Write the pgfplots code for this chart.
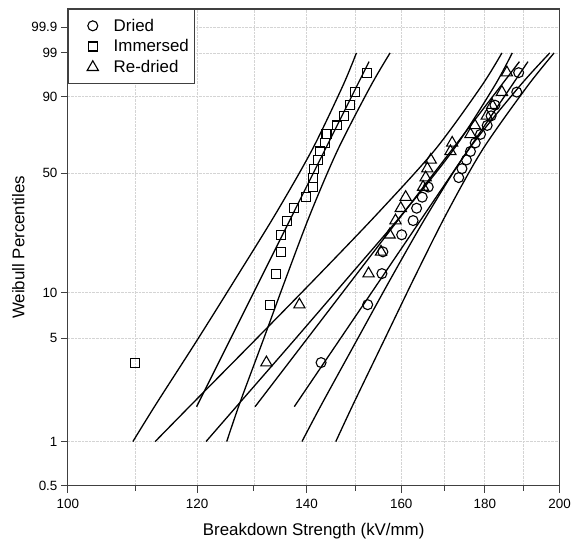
\documentclass[border=0pt]{standalone}
\usepackage{fontspec}
\setmainfont{Liberation Sans}
\usepackage{pgfplots}
\pgfplotsset{compat=1.18}

% y values are Weibull-transformed: ln(-ln(1-F))
\pgfplotstableread{
x w
142.9 -3.355
152.6 -2.442
155.7 -1.952
155.9 -1.609
160.1 -1.340
162.7 -1.116
163.5 -0.921
164.8 -0.747
166.2 -0.587
173.5 -0.438
174.3 -0.297
175.4 -0.160
176.4 -0.026
177.6 0.108
178.9 0.243
180.6 0.384
181.6 0.535
182.6 0.704
188.3 0.910
188.8 1.216
}\dried

\pgfplotstableread{
x w
109.9 -3.355
132.9 -2.442
134.1 -1.952
135.0 -1.609
135.1 -1.340
136.2 -1.116
137.5 -0.921
139.9 -0.747
141.3 -0.587
141.3 -0.438
141.5 -0.297
142.3 -0.160
142.7 -0.026
143.7 0.108
144.0 0.243
146.2 0.384
147.6 0.535
148.9 0.704
149.9 0.910
152.4 1.216
}\immersed

\pgfplotstableread{
x w
132.3 -3.355
138.6 -2.442
152.8 -1.952
155.5 -1.609
157.4 -1.340
158.7 -1.116
159.9 -0.921
161.0 -0.747
165.0 -0.587
165.6 -0.438
166.0 -0.297
166.8 -0.160
171.5 -0.026
171.9 0.108
176.4 0.243
177.5 0.384
180.5 0.535
181.9 0.704
184.4 0.910
185.7 1.216
}\redried

% confidence bounds: w, then x for each bound
\pgfplotstableread{
w    imlo  imhi  relo  rehi  drlo  drhi
-4.600 109.6 125.1 113.1 139.1 121.5 145.9
-4.000 113.3 127.4 119.2 143.1 127.3 149.6
-3.000 120.0 131.7 130.2 150.3 137.6 156.2
-2.000 126.9 136.1 142.1 157.9 148.6 163.1
-1.000 134.1 140.8 154.8 166.2 160.4 170.6
0.000  141.1 146.3 167.8 175.9 172.2 179.4
1.000  147.3 153.2 179.1 189.0 182.4 191.1
1.527  150.2 157.5 184.4 197.3 187.1 198.5
}\bounds

\pgfplotsset{
  mkleg/.style={legend image code/.code={
    \path (-20bp,0bp) (19bp,0bp);
    \draw[##1] plot coordinates {(0bp,0bp)};}},
}

\begin{document}
\begin{tikzpicture}
\begin{axis}[
  name=ax,
  width=493bp, height=478bp, scale only axis,
  xmode=log, xmin=100, xmax=200,
  xtick={100,120,140,160,180,200},
  xticklabels={100,120,140,160,180,200},
  minor xtick={110,130,150,170,190},
  ymin=-5.2958, ymax=2.2203,
  ytick={-5.2958,-4.6001,-2.9702,-2.2504,-0.36651,0.83403,1.52718,1.93264},
  yticklabels={0.5,1,5,10,50,90,99,99.9},
  grid=both,
  major grid style={densely dotted, black!17, line width=0.8bp},
  minor grid style={densely dotted, black!17, line width=0.8bp},
  tick align=outside, tick pos=left,
  major tick length=7bp, minor tick length=5bp,
  axis line style={black!75, line width=1.2bp},
  every tick/.style={black!75, line width=1bp},
  ticklabel style={font=\fontsize{13.5}{16}\selectfont},
  xticklabel style={yshift=-3bp},
  label style={font=\fontsize{17}{20}\selectfont},
  xlabel={Breakdown Strength (kV/mm)},
  xlabel style={yshift=-8bp},
  ylabel={Weibull Percentiles},
  legend cell align=left,
  legend style={at={(0,1)}, anchor=north west, draw=black!75, line width=1bp,
    font=\fontsize{17}{20}\selectfont, inner xsep=4bp, inner ysep=8bp,
    nodes={inner sep=1.5bp}, row sep=4bp},
]
\addplot[only marks, mark=o, mark size=5bp, mark options={black, line width=1.1bp}, mkleg] table[x=x, y=w] {\dried};
\addlegendentry{Dried}
\addplot[only marks, mark=square, mark size=4.5bp, mark options={black, line width=1.1bp}, mkleg] table[x=x, y=w] {\immersed};
\addlegendentry{Immersed}
\addplot[only marks, mark=triangle, mark size=6.5bp, mark options={black, line width=1.1bp}, mkleg] table[x=x, y=w] {\redried};
\addlegendentry{Re-dried}

% fitted lines
\addplot[black, line width=1.3bp, forget plot] coordinates {(119.9,-4.05) (152.9,1.39)};
\addplot[black, line width=1.3bp, forget plot] coordinates {(130.2,-4.05) (189.0,1.39)};
\addplot[black, line width=1.3bp, forget plot] coordinates {(137.6,-4.05) (191.3,1.39)};

% bounds
\addplot[black, line width=1.3bp, smooth, forget plot] table[x=imlo, y=w] {\bounds};
\addplot[black, line width=1.3bp, smooth, forget plot] table[x=imhi, y=w] {\bounds};
\addplot[black, line width=1.3bp, smooth, forget plot] table[x=relo, y=w] {\bounds};
\addplot[black, line width=1.3bp, smooth, forget plot] table[x=rehi, y=w] {\bounds};
\addplot[black, line width=1.3bp, smooth, forget plot] table[x=drlo, y=w] {\bounds};
\addplot[black, line width=1.3bp, smooth, forget plot] table[x=drhi, y=w] {\bounds};
\end{axis}
\path ([xshift=-68bp,yshift=9bp]ax.north west) rectangle ([xshift=13bp,yshift=-50bp]ax.south east);
\end{tikzpicture}
\end{document}
